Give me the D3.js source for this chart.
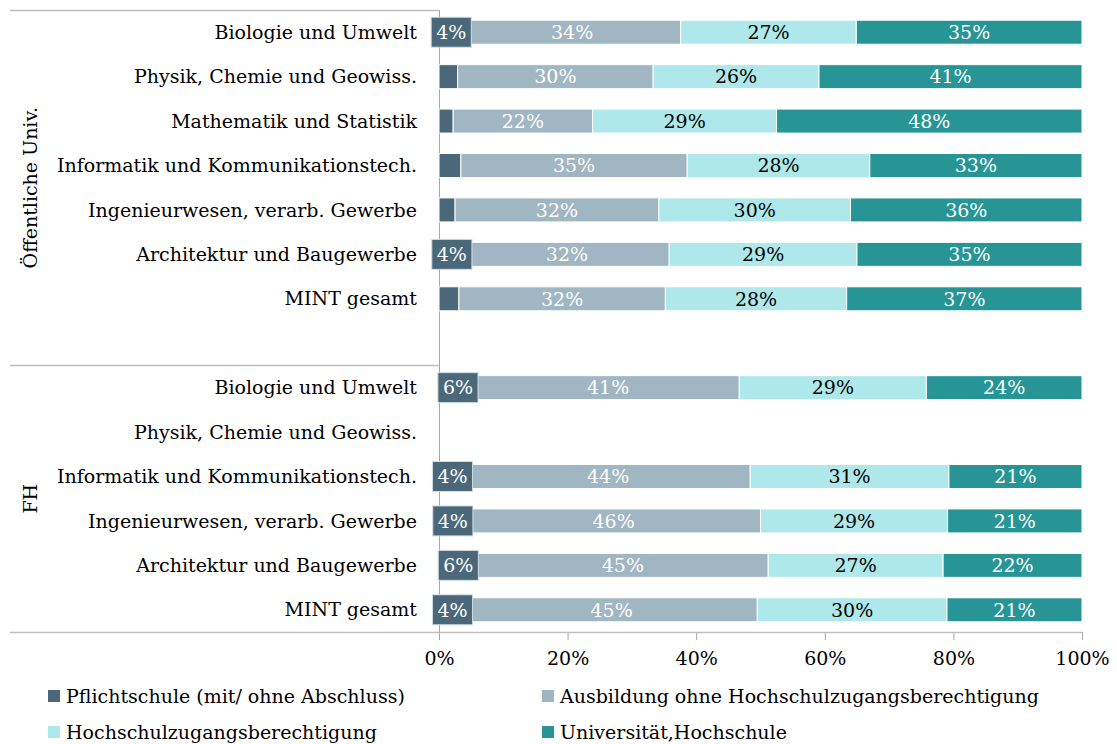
<!DOCTYPE html>
<html>
<head>
<meta charset="utf-8">
<script src="https://cdn.jsdelivr.net/npm/d3@7"></script>
<style>
  html, body { margin: 0; padding: 0; background: #fff; }
  svg { display: block; }
  text { font-family: "DejaVu Serif", "Liberation Serif", serif; }
</style>
</head>
<body>
<svg id="chart" width="1117" height="744"></svg>
<script>
// ---------- data ----------
const groupNames = ["Öffentliche Univ.", "FH"];
const univCategories = ["Biologie und Umwelt", "Physik, Chemie und Geowiss.", "Mathematik und Statistik",
  "Informatik und Kommunikationstech.", "Ingenieurwesen, verarb. Gewerbe", "Architektur und Baugewerbe", "MINT gesamt"];
const fhCategories = ["Biologie und Umwelt", "Physik, Chemie und Geowiss.",
  "Informatik und Kommunikationstech.", "Ingenieurwesen, verarb. Gewerbe", "Architektur und Baugewerbe", "MINT gesamt"];
const seriesNames = ["Pflichtschule (mit/ ohne Abschluss)", "Ausbildung ohne Hochschulzugangsberechtigung",
  "Hochschulzugangsberechtigung", "Universität,Hochschule"];
const univPflicht         = [3.8, 2.9, 2.2, 3.4, 2.5, 4.0, 3.1];
const univAusbildung      = [33.8, 30.4, 21.7, 35.2, 31.7, 31.8, 32.1];
const univHochschulzugang = [27.3, 25.8, 28.6, 28.4, 29.8, 29.2, 28.2];
const univUniversitaet    = [35.1, 40.9, 47.5, 33.0, 36.0, 35.0, 36.6];
const fhPflicht           = [5.9, null, 4.2, 4.3, 6.0, 4.2];
const fhAusbildung        = [40.8, null, 44.2, 45.7, 45.2, 45.3];
const fhHochschulzugang   = [29.1, null, 30.9, 29.1, 27.2, 29.5];
const fhUniversitaet      = [24.2, null, 20.7, 20.9, 21.6, 21.0];
const xTicks = [0, 20, 40, 60, 80, 100];

// ---------- styles ----------
const colors = ["#4b687b", "#a0b6c3", "#aee8ea", "#279595"];
const labelColors = ["#ffffff", "#ffffff", "#000000", "#ffffff"];
const FONT = 19;

// ---------- build rows ----------
const rows = [];
univCategories.forEach((c, i) => rows.push({key: "u" + i, label: c, group: 0,
  vals: [univPflicht[i], univAusbildung[i], univHochschulzugang[i], univUniversitaet[i]]}));
rows.push({key: "blank", label: "", group: 0, vals: [null, null, null, null]});
fhCategories.forEach((c, i) => rows.push({key: "f" + i, label: c, group: 1,
  vals: [fhPflicht[i], fhAusbildung[i], fhHochschulzugang[i], fhUniversitaet[i]]}));

const svg = d3.select("#chart");
const plotTop = 10, plotBottom = 632, plotLeft = 439, plotRight = 1082, axisLeft = 10;

const x = d3.scaleLinear().domain([0, 100]).range([plotLeft, plotRight]);
const y = d3.scaleBand().domain(rows.map(r => r.key)).range([plotTop, plotBottom])
  .paddingInner(0.46).paddingOuter(0.23);

const lineColor = "#bfbfbf";

// group separator lines (multi-level category axis)
const groupBounds = [plotTop, y.step() * 8 + plotTop, plotBottom];
svg.append("g").selectAll("line").data(groupBounds.slice(0, 2)).join("line")
  .attr("x1", axisLeft).attr("x2", plotLeft)
  .attr("y1", d => Math.round(d) + 0.5).attr("y2", d => Math.round(d) + 0.5)
  .attr("stroke", lineColor).attr("stroke-width", 1.3);

// x axis
const xAxis = svg.append("g").attr("transform", `translate(0,${plotBottom})`)
  .call(d3.axisBottom(x).tickValues(xTicks).tickFormat(d => d + "%").tickSize(8).tickPadding(12));
xAxis.select(".domain").remove();
xAxis.selectAll(".tick line").attr("stroke", "#a6a6a6");
xAxis.selectAll(".tick text").attr("font-size", FONT).attr("fill", "#000")
  .style("font-family", '"DejaVu Serif", serif');
svg.append("line").attr("x1", axisLeft).attr("x2", plotRight)
  .attr("y1", plotBottom + 0.5).attr("y2", plotBottom + 0.5)
  .attr("stroke", lineColor).attr("stroke-width", 1.3);
// vertical category axis line
svg.append("line").attr("x1", plotLeft + 0.5).attr("x2", plotLeft + 0.5)
  .attr("y1", plotTop).attr("y2", plotBottom)
  .attr("stroke", "#a6a6a6").attr("stroke-width", 1);

// category labels
svg.append("g").selectAll("text").data(rows.filter(r => r.label)).join("text")
  .attr("x", 417).attr("y", d => y(d.key) + y.bandwidth() / 2)
  .attr("dy", "0.35em").attr("text-anchor", "end")
  .attr("font-size", FONT).attr("fill", "#000").text(d => d.label);

// group labels
[0, 1].forEach(g => {
  const cy = (groupBounds[g] + groupBounds[g + 1]) / 2;
  svg.append("text").attr("transform", `translate(30,${cy}) rotate(-90)`)
    .attr("text-anchor", "middle").attr("dy", "0.35em")
    .attr("font-size", FONT).attr("fill", "#000").text(groupNames[g]);
});

// stacked segments
const segs = [];
rows.forEach(r => {
  let acc = 0;
  r.vals.forEach((v, s) => {
    if (v == null) return;
    segs.push({row: r, s, x0: acc, x1: acc + v, v});
    acc += v;
  });
});

svg.append("g").selectAll("rect").data(segs).join("rect")
  .attr("x", d => x(d.x0)).attr("width", d => x(d.x1) - x(d.x0))
  .attr("y", d => y(d.row.key)).attr("height", y.bandwidth())
  .attr("fill", d => colors[d.s]).attr("stroke", "#ffffff").attr("stroke-width", 1);

// labels for segments s>=1
svg.append("g").selectAll("text").data(segs.filter(d => d.s > 0)).join("text")
  .attr("x", d => (x(d.x0) + x(d.x1)) / 2)
  .attr("y", d => y(d.row.key) + y.bandwidth() / 2)
  .attr("dy", "0.36em").attr("text-anchor", "middle")
  .attr("font-size", FONT).attr("fill", d => labelColors[d.s])
  .text(d => Math.round(d.v) + "%");

// labels for small first segment with a filled box
const smallLab = svg.append("g").selectAll("g")
  .data(segs.filter(d => d.s === 0 && Math.round(d.v) >= 4)).join("g");
smallLab.append("rect");
smallLab.append("text")
  .attr("x", d => (x(d.x0) + x(d.x1)) / 2)
  .attr("y", d => y(d.row.key) + y.bandwidth() / 2)
  .attr("dy", "0.36em").attr("text-anchor", "middle")
  .attr("font-size", FONT).attr("fill", "#fff")
  .text(d => Math.round(d.v) + "%");
smallLab.each(function(d) {
  const g = d3.select(this);
  const w = g.select("text").node().getComputedTextLength() + 10;
  const cx = (x(d.x0) + x(d.x1)) / 2, cy = y(d.row.key) + y.bandwidth() / 2;
  g.select("rect").attr("x", cx - w / 2).attr("y", cy - 15).attr("width", w).attr("height", 30)
    .attr("fill", colors[0]).attr("stroke", "#d6dee3").attr("stroke-width", 1);
});

// legend
const legendPos = [[48, 696], [542, 696], [48, 732], [542, 732]];
const leg = svg.append("g").selectAll("g").data(seriesNames).join("g")
  .attr("transform", (d, i) => `translate(${legendPos[i][0]},${legendPos[i][1]})`);
leg.append("rect").attr("x", 0).attr("y", -6).attr("width", 12).attr("height", 12)
  .attr("fill", (d, i) => colors[i]);
leg.append("text").attr("x", 18).attr("dy", "0.35em").attr("font-size", FONT)
  .attr("fill", "#000").text(d => d);
</script>
</body>
</html>
